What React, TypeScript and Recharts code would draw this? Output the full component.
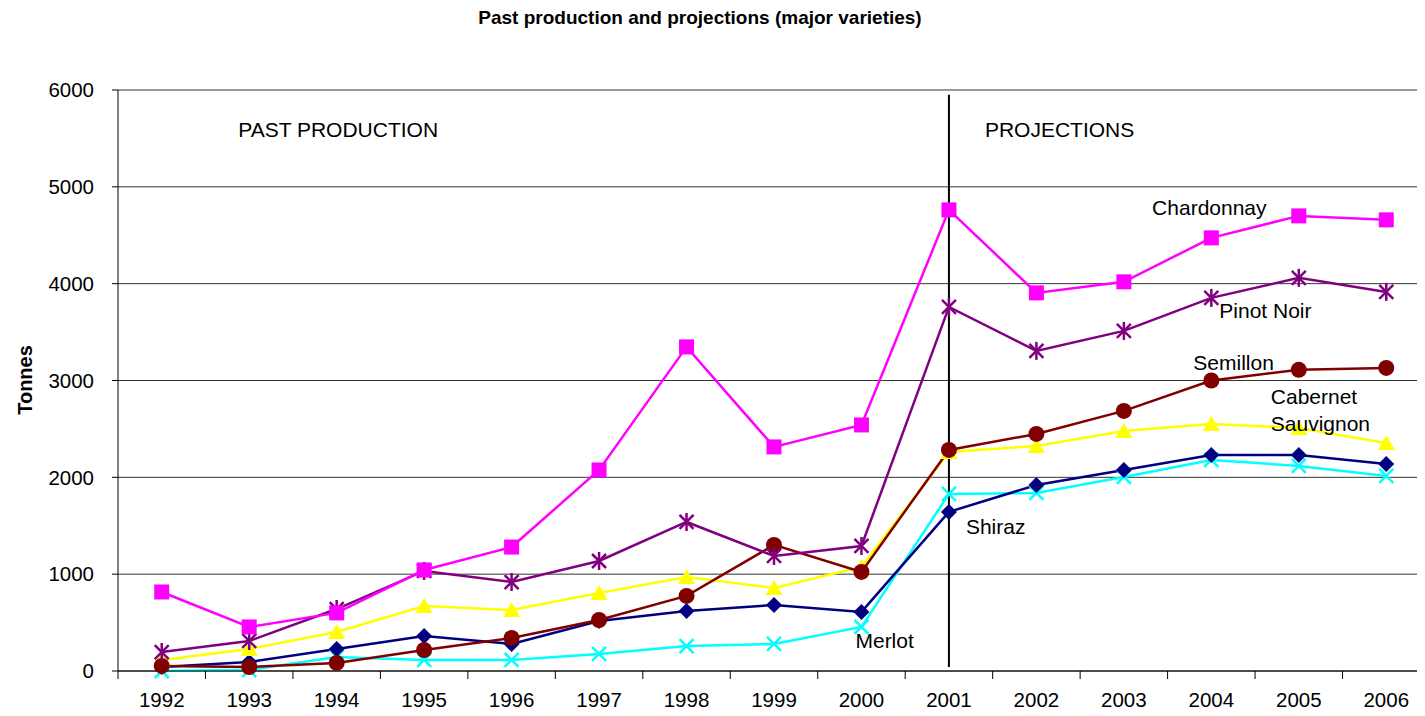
import React from "react";
import {
  LineChart,
  Line,
  XAxis,
  YAxis,
  CartesianGrid,
  ReferenceLine,
  ReferenceDot,
} from "recharts";

const years = [
  "1992", "1993", "1994", "1995", "1996", "1997", "1998", "1999",
  "2000", "2001", "2002", "2003", "2004", "2005", "2006",
];
const chardonnay = [816, 455, 600, 1043, 1280, 2076, 3347, 2314, 2541, 4762, 3905, 4019, 4473, 4700, 4659];
const pinotNoir = [196, 310, 640, 1033, 919, 1136, 1539, 1188, 1291, 3760, 3306, 3512, 3853, 4060, 3915];
const semillon = [52, 41, 83, 217, 341, 527, 775, 1302, 1023, 2283, 2448, 2686, 3000, 3110, 3130];
const cabernet = [114, 227, 403, 672, 630, 806, 971, 857, 1074, 2262, 2324, 2479, 2552, 2510, 2355];
const shiraz = [41, 93, 227, 362, 279, 517, 620, 682, 610, 1643, 1921, 2076, 2231, 2231, 2138];
const merlot = [0, 10, 145, 114, 114, 176, 258, 279, 455, 1829, 1839, 2004, 2180, 2118, 2014];
const yTicks = [0, 1000, 2000, 3000, 4000, 5000, 6000];

const data = years.map((year, i) => ({
  year,
  chardonnay: chardonnay[i],
  pinotNoir: pinotNoir[i],
  semillon: semillon[i],
  cabernet: cabernet[i],
  shiraz: shiraz[i],
  merlot: merlot[i],
}));

const FONT = "Arial, 'Liberation Sans', sans-serif";
const CHART_W = 1440;
const LEFT = 118;
const RIGHT = 10;
const BAND = (CHART_W - LEFT - RIGHT) / years.length;

type Kind = "square" | "star" | "circle" | "triangle" | "diamond" | "cross";

const marker = (kind: Kind, color: string, name: string) => (p: any) => {
  const { cx, cy, index } = p;
  const key = `${name}-${index}`;
  if (cx == null || cy == null) return <g key={key} />;
  switch (kind) {
    case "square":
      return <rect key={key} x={cx - 7.5} y={cy - 7.5} width={15} height={15} fill={color} />;
    case "circle":
      return <circle key={key} cx={cx} cy={cy} r={8} fill={color} />;
    case "triangle":
      return (
        <polygon key={key} points={`${cx},${cy - 8} ${cx + 8.5},${cy + 7} ${cx - 8.5},${cy + 7}`} fill={color} />
      );
    case "diamond":
      return (
        <polygon key={key} points={`${cx},${cy - 8} ${cx + 8},${cy} ${cx},${cy + 8} ${cx - 8},${cy}`} fill={color} />
      );
    case "star":
      return (
        <g key={key} stroke={color} strokeWidth={2.5}>
          <line x1={cx - 7} y1={cy - 7} x2={cx + 7} y2={cy + 7} />
          <line x1={cx - 7} y1={cy + 7} x2={cx + 7} y2={cy - 7} />
          <line x1={cx} y1={cy - 9} x2={cx} y2={cy + 9} />
        </g>
      );
    default:
      return (
        <g key={key} stroke={color} strokeWidth={2.5}>
          <line x1={cx - 7} y1={cy - 7} x2={cx + 7} y2={cy + 7} />
          <line x1={cx - 7} y1={cy + 7} x2={cx + 7} y2={cy - 7} />
        </g>
      );
  }
};

const note = (text: string, dx: number, anchor: "start" | "middle" = "start") => (p: any) => (
  <text
    x={p.cx + dx}
    y={p.cy}
    textAnchor={anchor}
    dominantBaseline="central"
    fontFamily={FONT}
    fontSize={21}
    fill="#000"
  >
    {text}
  </text>
);

const XTick = (props: any) => {
  const { x, y, payload } = props;
  return (
    <g>
      <line x1={x - BAND / 2} x2={x - BAND / 2} y1={y} y2={y + 8} stroke="#000" strokeWidth={1} />
      <text x={x} y={y + 36} textAnchor="middle" fontFamily={FONT} fontSize={20.5} fill="#000">
        {payload.value}
      </text>
    </g>
  );
};

const series: { key: string; color: string; kind: Kind }[] = [
  { key: "merlot", color: "#00FFFF", kind: "cross" },
  { key: "shiraz", color: "#000080", kind: "diamond" },
  { key: "cabernet", color: "#FFFF00", kind: "triangle" },
  { key: "semillon", color: "#800000", kind: "circle" },
  { key: "pinotNoir", color: "#800080", kind: "star" },
  { key: "chardonnay", color: "#FF00FF", kind: "square" },
];

export default function App() {
  return (
    <div style={{ margin: -8, width: 1425, height: 716, overflow: "hidden", position: "relative", background: "#fff" }}>
      <div
        style={{
          position: "absolute",
          top: 8,
          left: 0,
          width: 1400,
          textAlign: "center",
          fontFamily: FONT,
          fontWeight: "bold",
          fontSize: 19,
          lineHeight: "19px",
          color: "#000",
        }}
      >
        Past production and projections (major varieties)
      </div>
      <div
        style={{
          position: "absolute",
          left: 25,
          top: 380,
          transform: "translate(-50%, -50%) rotate(-90deg)",
          fontFamily: FONT,
          fontWeight: "bold",
          fontSize: 20,
          whiteSpace: "nowrap",
          color: "#000",
        }}
      >
        Tonnes
      </div>
      <LineChart
        width={CHART_W}
        height={716}
        data={data}
        margin={{ top: 90, right: RIGHT, bottom: 0, left: 0 }}
      >
        <CartesianGrid vertical={false} stroke="#333" strokeWidth={1} />
        <XAxis
          dataKey="year"
          height={45}
          tickSize={0}
          tickMargin={0}
          tickLine={false}
          padding={{ left: BAND / 2, right: BAND / 2 }}
          axisLine={{ stroke: "#000", strokeWidth: 1 }}
          tick={<XTick />}
          interval={0}
        />
        <YAxis
          width={LEFT}
          domain={[0, 6000]}
          ticks={yTicks}
          tickSize={6}
          tickMargin={18}
          axisLine={{ stroke: "#000", strokeWidth: 1 }}
          tickLine={{ stroke: "#000" }}
          tick={{ fill: "#000", fontFamily: FONT, fontSize: 20.5 }}
        />
        <ReferenceLine
          segment={[
            { x: "2001", y: 41 },
            { x: "2001", y: 5950 },
          ]}
          stroke="#000"
          strokeWidth={2}
        />
        {series.map((s) => (
          <Line
            key={s.key}
            type="linear"
            dataKey={s.key}
            stroke={s.color}
            strokeWidth={2.5}
            dot={marker(s.kind, s.color, s.key)}
            activeDot={false}
            isAnimationActive={false}
          />
        ))}
        <ReferenceDot x="1993" y={5589} r={0} shape={note("PAST PRODUCTION", -11)} />
        <ReferenceDot x="2001" y={5589} r={0} shape={note("PROJECTIONS", 36)} />
        <ReferenceDot x="2004" y={4782} r={0} shape={note("Chardonnay", -2, "middle")} />
        <ReferenceDot x="2004" y={3728} r={0} shape={note("Pinot Noir", 8)} />
        <ReferenceDot x="2004" y={3191} r={0} shape={note("Semillon", -18)} />
        <ReferenceDot x="2005" y={2830} r={0} shape={note("Cabernet", -28)} />
        <ReferenceDot x="2005" y={2551} r={0} shape={note("Sauvignon", -28)} />
        <ReferenceDot x="2001" y={1497} r={0} shape={note("Shiraz", 17)} />
        <ReferenceDot x="2000" y={320} r={0} shape={note("Merlot", -6)} />
      </LineChart>
    </div>
  );
}
